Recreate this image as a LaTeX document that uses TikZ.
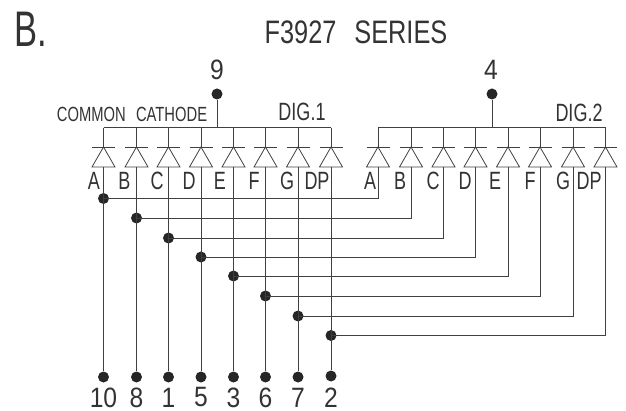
\documentclass[tikz,border=0pt]{standalone}
\usepackage{fontspec}
\setmainfont[FakeStretch=0.78]{Liberation Sans}
\newfontfamily\numfont[FakeStretch=0.88]{Liberation Sans}
\newfontfamily\lblfont[FakeStretch=0.72]{Liberation Sans}
\newfontfamily\bigfont[FakeStretch=0.69]{Liberation Sans}
\tikzset{
  wire/.style={draw=black!75,line width=0.8pt},
  pin/.style={circle,fill=black!85,draw=none,minimum size=11pt,inner sep=0pt},
  lbl/.style={inner sep=0pt,text=black!80,font=\lblfont\fontsize{25}{25}\selectfont},
  num/.style={inner sep=0pt,text=black!80,font=\numfont\fontsize{28}{28}\selectfont},
  small/.style={inner sep=0pt,text=black!80,font=\lblfont\fontsize{20.5}{20.5}\selectfont}
}
\begin{document}
\begin{tikzpicture}[x=1pt,y=-1pt]
\useasboundingbox (0,0) rectangle (626,411);
\node[inner sep=0pt,text=black!80,font=\bigfont\fontsize{50}{50}\selectfont] (ttlB) at (31,29) {B.};
\node[inner sep=0pt,text=black!80,font=\fontsize{32.5}{32.5}\selectfont] (ttl) at (356,32) {F3927\hspace{0.55em}SERIES};
\node[small] (cc) at (132,114) {COMMON\hspace{0.5em}CATHODE};
\node[lbl] (d1) at (302,112) {DIG.1};
\node[lbl] (d2) at (579,113) {DIG.2};
\node[num] (n9) at (217,70) {9};
\node[num] (n4) at (491,70) {4};
\node[pin] (p9) at (217,94) {};
\node[pin] (p4) at (492,94) {};
\coordinate (b9) at (217,127.7);
\coordinate (b4) at (492,127.7);
\draw[wire] (p9) -- (b9);
\draw[wire] (p4) -- (b4);
% columns
\foreach \n/\lx/\rx/\ly/\lab/\llx/\rlx/\num/\yb in {
 1/103.5/378/198.5/A/94/370/10/377,
 2/136.5/411/218/B/124.5/400/8/377,
 3/168.5/443.5/238/C/157/433/1/377,
 4/201/475.5/257/D/189/465/5/377,
 5/233.5/508/276/E/220/495/3/377,
 6/265.5/540/296/F/254/530/6/377,
 7/298/573/316/G/287/563/7/377,
 8/331/605.5/335.5/DP/317/589/2/376}{
  \foreach \side/\x/\lbx in {l/\lx/\llx,r/\rx/\rlx}{
    \coordinate (\side bus\n) at (\x,127.7);
    \coordinate (\side k\n) at (\x,147);
    \coordinate (\side a\n) at (\x,167);
    \draw[wire] (\side bus\n) -- (\side k\n);
    \draw[wire] ([xshift=-11.5pt]\side k\n) -- ([xshift=11.5pt]\side k\n);
    \draw[wire,line join=miter] (\side k\n) -- ([xshift=-11.5pt]\side a\n) -- ([xshift=11.5pt]\side a\n) -- cycle;
    \node[lbl] (\side lab\n) at (\lbx,181) {\lab};
  }
  \node[pin] (j\n) at (\lx,\ly) {};
  \node[pin] (pin\n) at (\lx,\yb) {};
  \node[num] (num\n) at (\lx,397.5) {\num};
  \draw[wire] (la\n) -- (pin\n);
  \draw[wire] (j\n.center) -| (ra\n);
}
\draw[wire] (lbus1) -- (lbus8);
\draw[wire] (rbus1) -- (rbus8);
\end{tikzpicture}
\end{document}
